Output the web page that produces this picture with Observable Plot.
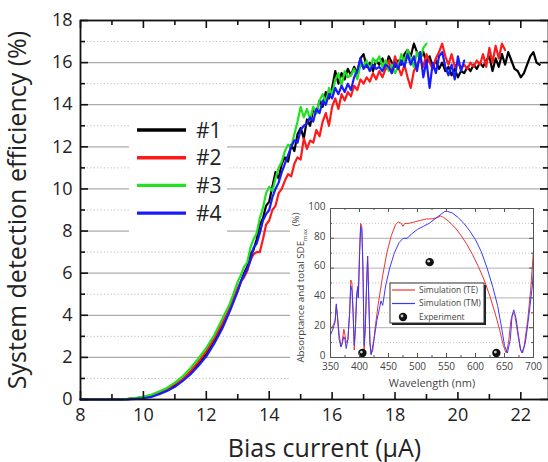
<!DOCTYPE html>
<html><head><meta charset="utf-8">
<script src="https://cdn.jsdelivr.net/npm/d3@7"></script>
<script src="https://cdn.jsdelivr.net/npm/@observablehq/plot@0.6"></script>
<style>
html,body{margin:0;padding:0;background:#fff;}
#wrap{position:relative;width:548px;height:462px;overflow:hidden;background:#fff;}
#inset{position:absolute;left:290px;top:192px;}
</style></head><body><div id="wrap"><div id="main"></div><div id="inset"></div></div>
<script>
// ---------- main chart data ----------
const smoothBias = [8, 8.25, 8.5, 8.75, 9, 9.25, 9.5, 9.75, 10, 10.25, 10.5, 10.75, 11, 11.25, 11.5, 11.75, 12, 12.25, 12.5, 12.75, 13];
const smooth1 = [0,0,0,0,0,0.01,0.02,0.05,0.1,0.17,0.3,0.45,0.65,0.95,1.3,1.7,2.15,2.75,3.45,4.3,5.2];
const smooth2 = [0,0,0,0,0,0.01,0.03,0.06,0.12,0.2,0.35,0.5,0.75,0.95,1.35,1.8,2.3,2.9,3.6,4.4,5.3];
const smooth3 = [0,0,0,0,0,0.01,0.03,0.07,0.14,0.22,0.38,0.55,0.8,1.1,1.5,1.95,2.45,3.05,3.8,4.55,5.6];
const smooth4 = [0,0,0,0,0,0,0.01,0.03,0.06,0.12,0.25,0.4,0.6,0.88,1.2,1.6,2.05,2.65,3.35,4.2,5.15];
// readings every 0.1 µA starting at 13.1 µA
const noisyStart = 13.1, noisyStep = 0.1;
const noisy1 = [5.6,6.0,6.3,6.9,7.1,7.6,8.3,8.6,9.2,9.4,10.1,10.8,10.5,11.2,11.5,11.3,12.1,11.8,12.6,12.9,12.4,13.3,13.0,13.8,13.6,14.2,13.9,14.6,14.3,14.8,15.6,15.0,15.5,15.2,15.7,15.4,15.8,15.5,16.2,16.4,15.8,16.0,15.6,16.1,15.9,16.2,15.7,16.3,16.0,15.8,16.1,15.9,16.4,16.6,16.3,16.9,16.5,16.2,16.5,16.0,16.3,15.8,16.1,15.7,16.0,15.6,15.8,15.4,15.7,15.3,15.6,15.5,15.8,15.6,15.9,15.7,16.0,15.8,16.1,16.3,15.6,16.2,15.8,16.4,15.9,16.5,16.1,15.7,15.6,15.3,15.5,15.9,16.3,16.5,16.0,15.9];
const noisy2 = [5.6,5.8,6.1,6.6,6.9,7.0,7.0,7.6,8.3,8.5,9.0,9.2,9.8,10.0,10.4,10.7,10.6,11.2,11.5,11.4,12.4,11.9,12.3,12.2,12.8,12.5,13.2,13.6,13.0,13.9,14.3,13.8,14.5,14.2,14.6,14.4,14.9,14.7,15.2,15.0,15.3,15.1,15.5,15.2,15.6,15.3,15.7,16.1,15.5,16.3,15.8,15.4,15.9,15.3,14.8,15.6,15.9,16.2,15.8,16.4,16.0,15.7,16.2,16.5,16.9,16.3,15.9,16.4,15.8,16.0,15.7,15.9,15.7,16.0,15.8,16.1,15.9,16.4,15.8,16.7,16.0,16.8,16.2,16.9,16.6];
const noisy3 = [5.9,6.3,6.5,7.2,7.6,7.9,8.6,9.1,9.8,10.1,9.9,10.5,11.0,11.3,11.8,12.1,12.0,12.6,13.2,13.9,13.4,13.8,13.3,13.9,13.6,14.2,14.5,14.1,14.8,14.5,15.2,15.5,14.9,15.6,15.3,15.4,15.7,15.2,15.9,15.8,16.1,15.6,16.2,16.0,16.3,15.8,16.1,15.6,15.9,15.5,15.8,16.4,16.0,16.6,16.2,15.8,16.5,16.1,16.7,16.9];
const noisy4 = [5.6,5.9,6.2,6.6,7.2,7.4,7.9,8.5,8.8,9.0,9.6,10.0,10.3,10.8,11.2,11.6,12.0,12.3,12.2,12.8,13.0,13.1,13.4,13.2,13.8,13.6,14.2,14.0,14.5,14.3,14.8,14.5,14.9,14.6,15.0,14.7,15.3,15.6,16.2,15.7,15.9,15.6,15.9,15.7,15.8,15.6,15.9,15.8,15.5,16.0,15.7,16.1,15.8,16.4,15.9,16.3,15.6,16.5,15.3,16.1,14.8,16.0,15.5,16.3,16.5,15.8,15.4,15.9,15.2,16.3,15.6,16.1];
const seriesNames = ["#1", "#2", "#3", "#4"];
const seriesColors = ["#000000", "#ff1a1a", "#22e022", "#1a1aff"];
const xMajor = [8, 10, 12, 14, 16, 18, 20, 22];
const xMinor = [9, 11, 13, 15, 17, 19, 21];
const yMajor = [0, 2, 4, 6, 8, 10, 12, 14, 16, 18];
const yMinor = [1, 3, 5, 7, 9, 11, 13, 15, 17];
const yGrid = [2, 4, 6, 8, 10, 12, 14, 16];

// ---------- inset data ----------
const wlTE = [350,355,358,360,362,365,368,370,373,375,377,380,383,385,387,389,391,393,395,397,398,400,402,404,406,408,410,412,414,416,418,420,423,427,432,440,447,455,462,467,472,475,478,485,495,505,515,525,535,540,545,555,565,575,585,595,605,615,625,635,642,648,653,657,661,665,668,672,677,680,684,690,695,700];
const absTE = [19,22,25,35,28,15,8,10,19,15,10,12,30,52,50,30,5,20,40,48,40,70,90,88,60,5,20,48,68,40,10,2,5,20,35,55,70,82,89,91,90,88,90,90,91,92,93,93,94,95,94,91,87,82,76,69,61,52,41,28,18,8,3,10,25,30,28,18,6,3,8,25,45,72];
const wlTM = [350,355,358,360,362,365,368,370,373,375,377,380,383,385,387,389,391,393,395,397,398,400,402,404,406,408,410,412,414,416,418,420,425,430,435,437,440,445,452,460,468,475,482,490,500,510,520,530,540,547,552,560,570,580,590,600,610,620,630,638,645,650,655,660,663,666,670,674,678,681,686,692,698,700];
const absTM = [15,20,24,36,27,12,7,9,14,12,6,12,30,48,45,30,8,20,42,47,40,68,88,86,58,8,20,45,68,40,10,2,12,25,34,38,35,48,60,70,77,80,80,83,86,88,90,93,96,98,98,97,94,90,85,79,71,60,47,35,20,8,3,12,28,32,26,15,5,3,10,28,48,60];
const expWl = [405, 521, 636];
const expVal = [3, 64, 3];
const insetXMajor = [350,400,450,500,550,600,650,700];
const insetXMinor = [375,425,475,525,575,625,675];
const insetYMajor = [0,20,40,60,80,100];
const insetYMinor = [10,30,50,70,90];
const insetGrid = [20,40,60,80];

// ---------- build tables ----------
const curves = [[smooth1, noisy1],[smooth2, noisy2],[smooth3, noisy3],[smooth4, noisy4]];
const mainRows = [];
curves.forEach(([sm, no], k) => {
  sm.forEach((v, i) => mainRows.push({s: seriesNames[k], x: smoothBias[i], y: v}));
  no.forEach((v, i) => mainRows.push({s: seriesNames[k], x: +(noisyStart + i * noisyStep).toFixed(2), y: v}));
});

const W = 548, H = 462, mL = 80, mR = 0, mT = 20, mB = 63;
const pW = W - mL - mR, pH = H - mT - mB;
const font = "'Open Sans', sans-serif";

const main = Plot.plot({
  width: W, height: H, marginLeft: mL, marginRight: mR, marginTop: mT, marginBottom: mB,
  style: {fontFamily: font, background: "white", color: "#222"},
  x: {domain: [8, 22.88]},
  y: {domain: [0, 18]},
  color: {domain: seriesNames, range: seriesColors},
  marks: [
    Plot.ruleY(yMinor, {stroke: "#bdbdbd", strokeDasharray: "1.2,2.2"}),
    Plot.ruleY(yGrid, {stroke: "#ababab", strokeWidth: 1.3}),
    Plot.line(mainRows, {x: "x", y: "y", z: "s", stroke: "s", strokeWidth: 2.2}),
    Plot.tickX(xMajor, {x: d => d, insetTop: pH - 8, stroke: "#111", strokeWidth: 1.6}),
    Plot.tickX(xMinor, {x: d => d, insetTop: pH - 5, stroke: "#111", strokeWidth: 1.6}),
    Plot.tickX(xMajor, {x: d => d, insetBottom: pH - 8, stroke: "#111", strokeWidth: 1.6}),
    Plot.tickX(xMinor, {x: d => d, insetBottom: pH - 5, stroke: "#111", strokeWidth: 1.6}),
    Plot.tickY(yMajor, {y: d => d, insetRight: pW - 8, stroke: "#111", strokeWidth: 1.6}),
    Plot.tickY(yMinor, {y: d => d, insetRight: pW - 5, stroke: "#111", strokeWidth: 1.6}),
    Plot.tickY(yMajor, {y: d => d, insetLeft: pW - 8, stroke: "#111", strokeWidth: 1.6}),
    Plot.tickY(yMinor, {y: d => d, insetLeft: pW - 5, stroke: "#111", strokeWidth: 1.6}),
    Plot.frame({stroke: "#111", strokeWidth: 1.8}),
    Plot.axisX(xMajor, {tickSize: 0, tickPadding: 9, fontSize: 18, label: "Bias current (μA)", labelAnchor: "center", labelArrow: "none", labelOffset: 57}),
    Plot.axisY(yMajor, {tickSize: 0, tickPadding: 8, fontSize: 18, label: "System detection efficiency (%)", labelAnchor: "center", labelArrow: "none", labelOffset: 72})
  ]
});
document.getElementById("main").appendChild(main);
d3.select(main).selectAll("g[aria-label='x-axis label'] text, g[aria-label='y-axis label'] text").style("font-size", "25px");
d3.select(main).selectAll("g[aria-label='x-axis label'] text").attr("dx", 10);

// main legend (white box over the gridlines)
const lg = d3.select(main).append("g").attr("text-anchor", "start");
lg.append("rect").attr("x", 129).attr("y", 116).attr("width", 98).attr("height", 122).attr("fill", "white");
seriesNames.forEach((n, i) => {
  const yy = 130 + i * 27.7;
  lg.append("line").attr("x1", 137).attr("x2", 186).attr("y1", yy).attr("y2", yy).attr("stroke", seriesColors[i]).attr("stroke-width", 3.4);
  lg.append("text").attr("x", 196).attr("y", yy).attr("dy", "0.36em").attr("font-size", 21).attr("font-family", font).attr("fill", "#222").text(n);
});

// ---------- inset ----------
const insetRows = [];
wlTE.forEach((w, i) => insetRows.push({s: "Simulation (TE)", x: w, y: absTE[i]}));
wlTM.forEach((w, i) => insetRows.push({s: "Simulation (TM)", x: w, y: absTM[i]}));
const expRows = expWl.map((w, i) => ({x: w, y: expVal[i]}));

const iW = 253, iH = 200, iL = 40, iR = 10, iT = 16, iB = 35;
const ipW = iW - iL - iR, ipH = iH - iT - iB;
const inset = Plot.plot({
  width: iW, height: iH, marginLeft: iL, marginRight: iR, marginTop: iT, marginBottom: iB,
  style: {fontFamily: font, background: "white", color: "#444"},
  x: {domain: [350, 700]},
  y: {domain: [0, 100]},
  color: {domain: ["Simulation (TE)", "Simulation (TM)"], range: ["#ee3333", "#3a3aff"]},
  marks: [
    Plot.ruleY(insetYMinor, {stroke: "#c4c4c4", strokeDasharray: "1,2"}),
    Plot.ruleY(insetGrid, {stroke: "#b0b0b0"}),
    Plot.line(insetRows, {x: "x", y: "y", z: "s", stroke: "s", strokeWidth: 1}),
    Plot.dot(expRows, {x: "x", y: "y", r: 4.2, fill: "#111"}),
    Plot.dot(expRows, {x: "x", y: "y", r: 1.4, fill: "#ccc", dx: -1, dy: -1}),
    Plot.tickX(insetXMajor, {x: d => d, insetTop: ipH - 4, stroke: "#555"}),
    Plot.tickX(insetXMinor, {x: d => d, insetTop: ipH - 2, stroke: "#555"}),
    Plot.tickX(insetXMajor, {x: d => d, insetBottom: ipH - 4, stroke: "#555"}),
    Plot.tickX(insetXMinor, {x: d => d, insetBottom: ipH - 2, stroke: "#555"}),
    Plot.tickY(insetYMajor, {y: d => d, insetRight: ipW - 4, stroke: "#555"}),
    Plot.tickY(insetYMinor, {y: d => d, insetRight: ipW - 2, stroke: "#555"}),
    Plot.tickY(insetYMajor, {y: d => d, insetLeft: ipW - 4, stroke: "#555"}),
    Plot.tickY(insetYMinor, {y: d => d, insetLeft: ipW - 2, stroke: "#555"}),
    Plot.frame({stroke: "#555"}),
    Plot.axisX(insetXMajor, {tickSize: 0, tickPadding: 5, fontSize: 10, label: "Wavelength (nm)", labelAnchor: "center", labelArrow: "none", labelOffset: 29}),
    Plot.axisY(insetYMajor, {tickSize: 0, tickPadding: 5, fontSize: 10, label: null})
  ]
});
document.getElementById("inset").appendChild(inset);
const isv = d3.select(inset);
isv.selectAll("g[aria-label='x-axis label'] text").style("font-size", "11px");
isv.selectAll("g[aria-label='y-axis tick label'] text").attr("dy", "-0.2em");
const yl = isv.append("text").attr("transform", "translate(11," + (iT + ipH / 2 + 5) + ") rotate(-90)")
  .attr("text-anchor", "middle").attr("dy", "0.35em").attr("font-size", 9.8).attr("font-family", font).attr("fill", "#444");
yl.append("tspan").text("Absorptance and total SDE");
yl.append("tspan").attr("font-size", 6).attr("dy", "0.5em").text("max");
yl.append("tspan").attr("dy", "-0.9em").text(" (%)");

// inset legend
const il = isv.append("g").attr("text-anchor", "start");
il.append("rect").attr("x", 102).attr("y", 93).attr("width", 94).attr("height", 40).attr("fill", "#222");
il.append("rect").attr("x", 100).attr("y", 91).attr("width", 94).attr("height", 40).attr("fill", "white").attr("stroke", "#333");
[["Simulation (TE)", "#ee3333"], ["Simulation (TM)", "#3a3aff"]].forEach(([t, c], i) => {
  const yy = 98 + i * 13.5;
  il.append("line").attr("x1", 102).attr("x2", 125).attr("y1", yy).attr("y2", yy).attr("stroke", c).attr("stroke-width", 1.2);
  il.append("text").attr("x", 129).attr("y", yy).attr("dy", "0.35em").attr("font-size", 8.5).attr("font-family", font).attr("fill", "#444").text(t);
});
il.append("circle").attr("cx", 113).attr("cy", 125).attr("r", 4.2).attr("fill", "#111");
il.append("circle").attr("cx", 112).attr("cy", 124).attr("r", 1.4).attr("fill", "#ccc");
il.append("text").attr("x", 129).attr("y", 125).attr("dy", "0.35em").attr("font-size", 8.5).attr("font-family", font).attr("fill", "#444").text("Experiment");
</script></body></html>
